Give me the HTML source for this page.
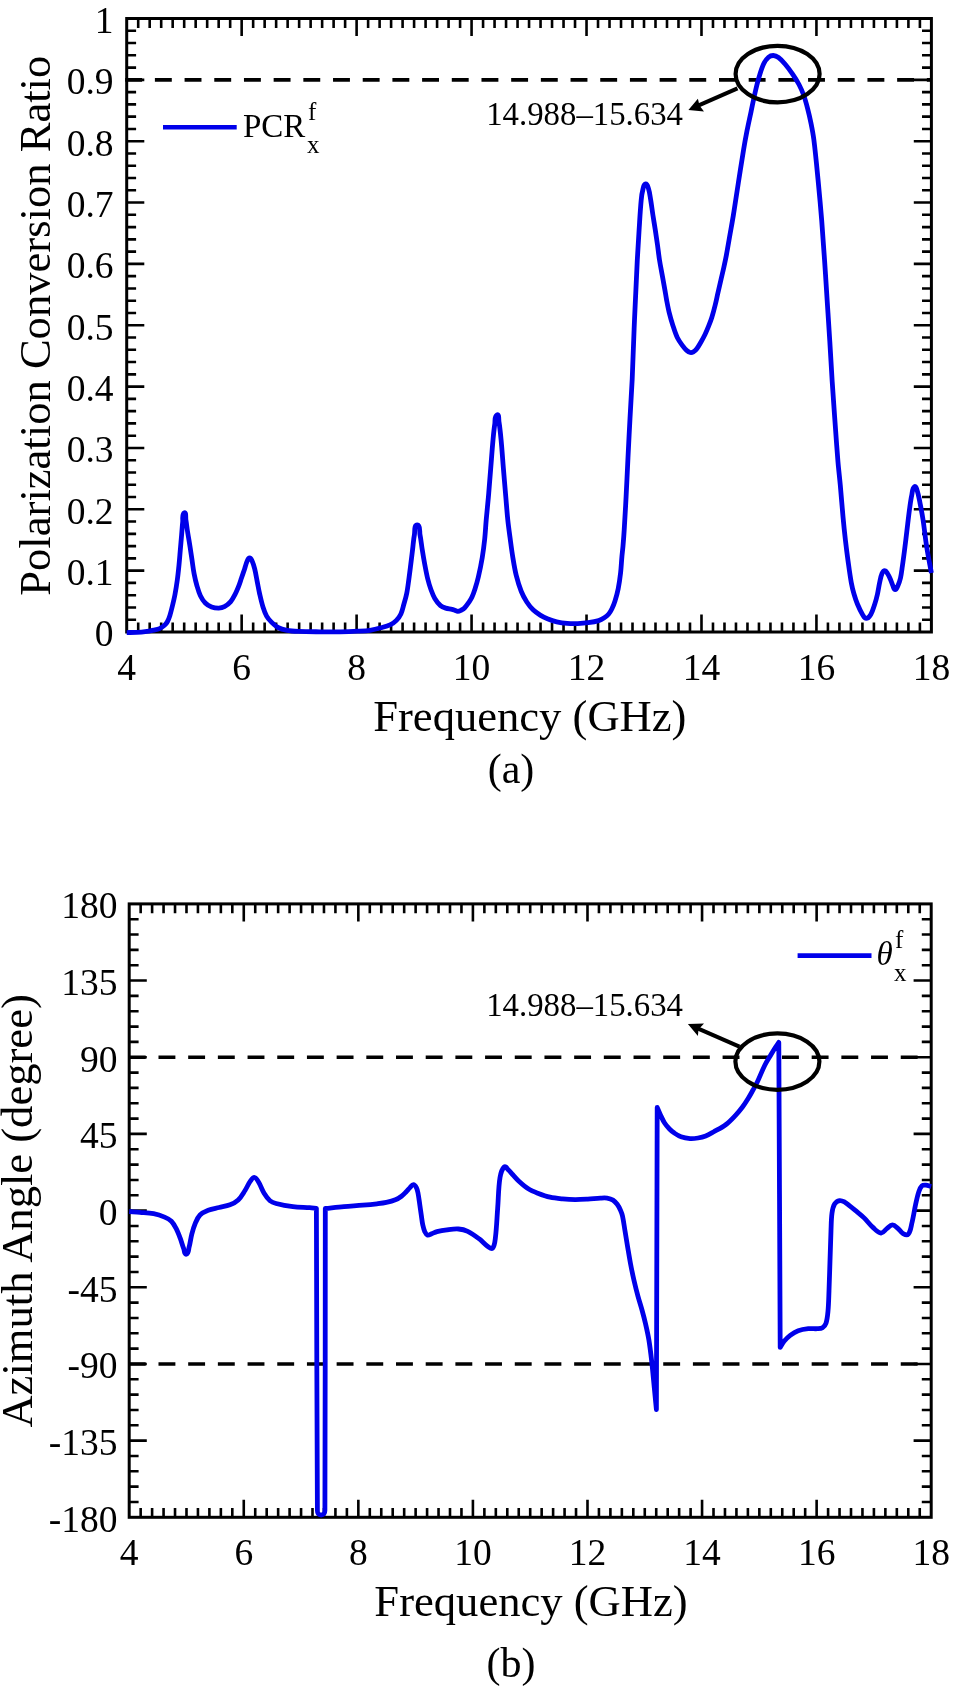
<!DOCTYPE html>
<html><head><meta charset="utf-8"><title>Chart</title>
<style>
html,body{margin:0;padding:0;background:#fff;}
svg{display:block;will-change:transform;}
text{font-family:"Liberation Serif", serif;fill:#000;}
</style></head>
<body>
<svg width="953" height="1686" viewBox="0 0 953 1686">
<rect width="953" height="1686" fill="#fff"/>
<line x1="125.20" y1="79.85" x2="931.40" y2="79.85" stroke="#000" stroke-width="3.6" stroke-dasharray="16.9 12.79"/>
<path d="M138.20,632.00V622.60 M138.20,18.50V27.90 M149.69,632.00V622.60 M149.69,18.50V27.90 M161.19,632.00V622.60 M161.19,18.50V27.90 M172.68,632.00V622.60 M172.68,18.50V27.90 M184.18,632.00V622.60 M184.18,18.50V27.90 M195.67,632.00V622.60 M195.67,18.50V27.90 M207.17,632.00V622.60 M207.17,18.50V27.90 M218.67,632.00V622.60 M218.67,18.50V27.90 M230.16,632.00V622.60 M230.16,18.50V27.90 M241.66,632.00V614.40 M241.66,18.50V36.10 M253.15,632.00V622.60 M253.15,18.50V27.90 M264.65,632.00V622.60 M264.65,18.50V27.90 M276.14,632.00V622.60 M276.14,18.50V27.90 M287.64,632.00V622.60 M287.64,18.50V27.90 M299.14,632.00V622.60 M299.14,18.50V27.90 M310.63,632.00V622.60 M310.63,18.50V27.90 M322.13,632.00V622.60 M322.13,18.50V27.90 M333.62,632.00V622.60 M333.62,18.50V27.90 M345.12,632.00V622.60 M345.12,18.50V27.90 M356.61,632.00V614.40 M356.61,18.50V36.10 M368.11,632.00V622.60 M368.11,18.50V27.90 M379.61,632.00V622.60 M379.61,18.50V27.90 M391.10,632.00V622.60 M391.10,18.50V27.90 M402.60,632.00V622.60 M402.60,18.50V27.90 M414.09,632.00V622.60 M414.09,18.50V27.90 M425.59,632.00V622.60 M425.59,18.50V27.90 M437.08,632.00V622.60 M437.08,18.50V27.90 M448.58,632.00V622.60 M448.58,18.50V27.90 M460.08,632.00V622.60 M460.08,18.50V27.90 M471.57,632.00V614.40 M471.57,18.50V36.10 M483.07,632.00V622.60 M483.07,18.50V27.90 M494.56,632.00V622.60 M494.56,18.50V27.90 M506.06,632.00V622.60 M506.06,18.50V27.90 M517.55,632.00V622.60 M517.55,18.50V27.90 M529.05,632.00V622.60 M529.05,18.50V27.90 M540.55,632.00V622.60 M540.55,18.50V27.90 M552.04,632.00V622.60 M552.04,18.50V27.90 M563.54,632.00V622.60 M563.54,18.50V27.90 M575.03,632.00V622.60 M575.03,18.50V27.90 M586.53,632.00V614.40 M586.53,18.50V36.10 M598.02,632.00V622.60 M598.02,18.50V27.90 M609.52,632.00V622.60 M609.52,18.50V27.90 M621.02,632.00V622.60 M621.02,18.50V27.90 M632.51,632.00V622.60 M632.51,18.50V27.90 M644.01,632.00V622.60 M644.01,18.50V27.90 M655.50,632.00V622.60 M655.50,18.50V27.90 M667.00,632.00V622.60 M667.00,18.50V27.90 M678.49,632.00V622.60 M678.49,18.50V27.90 M689.99,632.00V622.60 M689.99,18.50V27.90 M701.49,632.00V614.40 M701.49,18.50V36.10 M712.98,632.00V622.60 M712.98,18.50V27.90 M724.48,632.00V622.60 M724.48,18.50V27.90 M735.97,632.00V622.60 M735.97,18.50V27.90 M747.47,632.00V622.60 M747.47,18.50V27.90 M758.96,632.00V622.60 M758.96,18.50V27.90 M770.46,632.00V622.60 M770.46,18.50V27.90 M781.96,632.00V622.60 M781.96,18.50V27.90 M793.45,632.00V622.60 M793.45,18.50V27.90 M804.95,632.00V622.60 M804.95,18.50V27.90 M816.44,632.00V614.40 M816.44,18.50V36.10 M827.94,632.00V622.60 M827.94,18.50V27.90 M839.43,632.00V622.60 M839.43,18.50V27.90 M850.93,632.00V622.60 M850.93,18.50V27.90 M862.43,632.00V622.60 M862.43,18.50V27.90 M873.92,632.00V622.60 M873.92,18.50V27.90 M885.42,632.00V622.60 M885.42,18.50V27.90 M896.91,632.00V622.60 M896.91,18.50V27.90 M908.41,632.00V622.60 M908.41,18.50V27.90 M919.90,632.00V622.60 M919.90,18.50V27.90 M126.70,619.73H136.10 M931.40,619.73H922.00 M126.70,607.46H136.10 M931.40,607.46H922.00 M126.70,595.19H136.10 M931.40,595.19H922.00 M126.70,582.92H136.10 M931.40,582.92H922.00 M126.70,570.65H144.30 M931.40,570.65H913.80 M126.70,558.38H136.10 M931.40,558.38H922.00 M126.70,546.11H136.10 M931.40,546.11H922.00 M126.70,533.84H136.10 M931.40,533.84H922.00 M126.70,521.57H136.10 M931.40,521.57H922.00 M126.70,509.30H144.30 M931.40,509.30H913.80 M126.70,497.03H136.10 M931.40,497.03H922.00 M126.70,484.76H136.10 M931.40,484.76H922.00 M126.70,472.49H136.10 M931.40,472.49H922.00 M126.70,460.22H136.10 M931.40,460.22H922.00 M126.70,447.95H144.30 M931.40,447.95H913.80 M126.70,435.68H136.10 M931.40,435.68H922.00 M126.70,423.41H136.10 M931.40,423.41H922.00 M126.70,411.14H136.10 M931.40,411.14H922.00 M126.70,398.87H136.10 M931.40,398.87H922.00 M126.70,386.60H144.30 M931.40,386.60H913.80 M126.70,374.33H136.10 M931.40,374.33H922.00 M126.70,362.06H136.10 M931.40,362.06H922.00 M126.70,349.79H136.10 M931.40,349.79H922.00 M126.70,337.52H136.10 M931.40,337.52H922.00 M126.70,325.25H144.30 M931.40,325.25H913.80 M126.70,312.98H136.10 M931.40,312.98H922.00 M126.70,300.71H136.10 M931.40,300.71H922.00 M126.70,288.44H136.10 M931.40,288.44H922.00 M126.70,276.17H136.10 M931.40,276.17H922.00 M126.70,263.90H144.30 M931.40,263.90H913.80 M126.70,251.63H136.10 M931.40,251.63H922.00 M126.70,239.36H136.10 M931.40,239.36H922.00 M126.70,227.09H136.10 M931.40,227.09H922.00 M126.70,214.82H136.10 M931.40,214.82H922.00 M126.70,202.55H144.30 M931.40,202.55H913.80 M126.70,190.28H136.10 M931.40,190.28H922.00 M126.70,178.01H136.10 M931.40,178.01H922.00 M126.70,165.74H136.10 M931.40,165.74H922.00 M126.70,153.47H136.10 M931.40,153.47H922.00 M126.70,141.20H144.30 M931.40,141.20H913.80 M126.70,128.93H136.10 M931.40,128.93H922.00 M126.70,116.66H136.10 M931.40,116.66H922.00 M126.70,104.39H136.10 M931.40,104.39H922.00 M126.70,92.12H136.10 M931.40,92.12H922.00 M126.70,79.85H144.30 M931.40,79.85H913.80 M126.70,67.58H136.10 M931.40,67.58H922.00 M126.70,55.31H136.10 M931.40,55.31H922.00 M126.70,43.04H136.10 M931.40,43.04H922.00 M126.70,30.77H136.10 M931.40,30.77H922.00" stroke="#000" stroke-width="2.6" fill="none"/>
<rect x="126.70" y="18.50" width="804.70" height="613.50" fill="none" stroke="#000" stroke-width="3.0"/>
<path d="M126.70,632.60 C130.07,632.50 133.44,632.48 136.80,632.30 C139.61,632.15 142.41,631.96 145.20,631.60 C148.02,631.23 150.82,630.68 153.60,630.10 C155.59,629.68 157.64,629.42 159.50,628.60 C161.33,627.80 163.01,626.63 164.50,625.30 C165.71,624.23 166.73,622.92 167.50,621.50 C168.55,619.58 169.24,617.48 169.90,615.40 C170.88,612.31 171.63,609.15 172.40,606.00 C173.34,602.15 174.27,598.29 175.00,594.40 C175.90,589.62 176.64,584.82 177.30,580.00 C177.98,575.01 178.50,570.01 179.00,565.00 C179.50,560.01 179.87,555.00 180.30,550.00 C180.73,545.00 181.17,540.00 181.60,535.00 C181.97,530.67 182.17,526.32 182.70,522.00 C183.07,518.94 181.69,514.53 184.30,512.90 C186.36,511.61 185.48,517.61 185.90,520.00 C186.48,523.32 186.79,526.67 187.30,530.00 C188.05,534.87 188.93,539.73 189.70,544.60 C190.47,549.46 191.17,554.33 191.90,559.20 C192.63,564.07 193.18,568.97 194.10,573.80 C194.88,577.91 195.84,581.98 197.00,586.00 C197.95,589.29 198.90,592.62 200.40,595.70 C201.69,598.33 203.24,600.92 205.30,603.00 C207.05,604.77 209.28,606.11 211.60,607.00 C213.87,607.87 216.37,608.26 218.80,608.20 C220.73,608.15 222.71,607.64 224.40,606.70 C226.76,605.39 228.94,603.65 230.70,601.60 C232.60,599.39 233.84,596.68 235.20,594.10 C236.38,591.87 237.38,589.55 238.30,587.20 C239.45,584.28 240.38,581.27 241.40,578.30 C242.48,575.17 243.55,572.04 244.60,568.90 C245.45,566.37 246.00,563.73 247.10,561.30 C247.69,559.99 248.17,557.80 249.60,557.80 C251.05,557.80 251.59,559.98 252.20,561.30 C253.31,563.72 254.06,566.31 254.70,568.90 C255.73,573.06 256.37,577.30 257.20,581.50 C258.03,585.70 258.76,589.92 259.70,594.10 C260.66,598.33 261.60,602.57 262.90,606.70 C263.91,609.91 264.95,613.16 266.60,616.10 C267.92,618.46 269.79,620.49 271.70,622.40 C273.61,624.31 275.60,626.26 278.00,627.50 C280.79,628.94 283.91,629.71 287.00,630.30 C290.75,631.02 294.59,631.22 298.40,631.40 C305.39,631.72 312.40,631.73 319.40,631.80 C326.27,631.87 333.13,631.91 340.00,631.80 C345.97,631.71 351.94,631.50 357.90,631.20 C361.94,631.00 366.00,630.89 370.00,630.30 C373.72,629.75 377.38,628.80 381.00,627.80 C384.25,626.90 387.56,626.06 390.60,624.60 C392.75,623.57 394.74,622.11 396.40,620.40 C398.22,618.53 399.80,616.36 400.90,614.00 C402.30,611.00 402.90,607.69 403.80,604.50 C404.83,600.85 405.96,597.22 406.70,593.50 C407.66,588.64 408.22,583.71 408.90,578.80 C409.58,573.91 410.18,569.00 410.80,564.10 C411.42,559.20 412.00,554.30 412.60,549.40 C413.20,544.50 413.47,539.55 414.40,534.70 C415.04,531.39 413.93,525.00 417.30,525.00 C420.66,525.00 419.34,531.41 420.00,534.70 C420.98,539.56 421.42,544.51 422.20,549.40 C422.98,554.31 423.79,559.21 424.70,564.10 C425.62,569.02 426.51,573.94 427.70,578.80 C428.61,582.52 429.70,586.20 431.00,589.80 C432.07,592.75 433.19,595.71 434.80,598.40 C436.38,601.02 438.21,603.57 440.50,605.60 C441.94,606.88 443.87,607.51 445.70,608.10 C447.74,608.75 449.92,608.81 452.00,609.30 C452.92,609.52 453.81,609.88 454.70,610.20 C455.74,610.58 456.69,611.43 457.80,611.40 C459.12,611.36 460.32,610.60 461.50,610.00 C462.57,609.46 463.67,608.87 464.50,608.00 C466.27,606.14 467.74,604.01 469.20,601.90 C470.25,600.37 471.24,598.79 472.00,597.10 C473.14,594.57 474.07,591.95 474.90,589.30 C476.20,585.14 477.42,580.95 478.40,576.70 C479.85,570.44 481.14,564.14 482.20,557.80 C483.24,551.53 484.03,545.22 484.70,538.90 C485.37,532.62 485.65,526.30 486.20,520.00 C486.88,512.29 487.73,504.61 488.40,496.90 C489.23,487.44 489.93,477.97 490.70,468.50 C491.47,459.00 492.13,449.49 493.00,440.00 C493.49,434.66 493.96,429.30 494.80,424.00 C495.29,420.89 494.15,416.16 497.00,414.80 C499.25,413.73 498.60,419.54 499.00,422.00 C499.97,427.96 500.53,433.99 501.10,440.00 C502.00,449.49 502.62,459.00 503.40,468.50 C504.18,477.97 504.99,487.43 505.80,496.90 C506.46,504.60 506.99,512.31 507.80,520.00 C508.46,526.32 509.35,532.61 510.20,538.90 C511.08,545.44 511.92,551.99 513.00,558.50 C513.95,564.26 514.88,570.04 516.30,575.70 C517.65,581.06 519.25,586.37 521.30,591.50 C522.76,595.17 524.66,598.68 526.80,602.00 C528.61,604.81 530.71,607.46 533.10,609.80 C535.21,611.86 537.69,613.55 540.20,615.10 C542.67,616.63 545.31,617.91 548.00,619.00 C550.82,620.15 553.73,621.12 556.70,621.80 C560.15,622.59 563.67,623.10 567.20,623.40 C570.69,623.70 574.20,623.72 577.70,623.60 C581.21,623.48 584.72,623.20 588.20,622.70 C591.73,622.20 595.29,621.64 598.70,620.60 C600.70,619.99 602.54,618.93 604.30,617.80 C605.83,616.81 607.32,615.69 608.50,614.30 C609.85,612.72 610.89,610.87 611.80,609.00 C613.06,606.42 614.14,603.74 615.00,601.00 C616.27,596.96 617.38,592.86 618.20,588.70 C619.25,583.41 619.98,578.06 620.60,572.70 C621.21,567.38 621.42,562.03 621.90,556.70 C622.22,553.13 622.69,549.57 623.00,546.00 C623.46,540.67 623.87,535.34 624.20,530.00 C624.90,518.84 625.52,507.67 626.10,496.50 C626.78,483.47 627.35,470.43 628.00,457.40 C628.65,444.37 629.30,431.33 630.00,418.30 C630.70,405.23 631.58,392.17 632.20,379.10 C632.82,366.07 633.19,353.03 633.70,340.00 C633.96,333.27 634.20,326.53 634.50,319.80 C634.94,309.80 635.43,299.80 635.90,289.80 C636.37,279.83 636.77,269.86 637.30,259.90 C637.83,249.90 638.45,239.90 639.10,229.90 C639.75,219.93 640.26,209.95 641.20,200.00 C641.53,196.47 641.97,192.92 642.90,189.50 C643.45,187.47 643.51,183.98 645.60,183.80 C647.59,183.63 648.00,187.09 648.60,189.00 C649.72,192.56 650.09,196.32 650.70,200.00 C651.52,204.99 652.13,210.00 652.90,215.00 C653.67,220.01 654.53,224.99 655.30,230.00 C656.07,235.00 656.80,240.00 657.50,245.00 C658.20,250.00 658.72,255.02 659.50,260.00 C660.29,265.02 661.30,270.00 662.20,275.00 C663.10,280.00 664.02,285.00 664.90,290.00 C665.49,293.33 665.97,296.68 666.60,300.00 C667.40,304.21 668.18,308.44 669.20,312.60 C670.24,316.84 671.45,321.05 672.80,325.20 C674.18,329.45 675.45,333.78 677.40,337.80 C678.90,340.89 681.07,343.62 683.10,346.40 C684.14,347.83 685.26,349.25 686.60,350.40 C687.65,351.31 688.84,352.20 690.20,352.50 C691.26,352.73 692.45,352.43 693.40,351.90 C694.74,351.15 695.87,350.02 696.80,348.80 C698.42,346.69 699.67,344.31 701.00,342.00 C702.41,339.54 703.77,337.05 705.00,334.50 C706.31,331.78 707.48,329.00 708.60,326.20 C709.75,323.33 710.88,320.45 711.80,317.50 C713.08,313.38 714.16,309.19 715.20,305.00 C716.19,301.02 716.99,297.00 717.90,293.00 C718.89,288.66 719.90,284.33 720.90,280.00 C721.86,275.83 722.88,271.68 723.80,267.50 C724.71,263.34 725.62,259.18 726.40,255.00 C727.72,247.98 728.87,240.93 730.10,233.90 C731.20,227.60 732.38,221.31 733.40,215.00 C735.15,204.18 736.71,193.33 738.40,182.50 C740.11,171.53 741.78,160.55 743.60,149.60 C744.64,143.32 745.77,137.05 747.00,130.80 C748.24,124.48 749.67,118.20 751.00,111.90 C752.33,105.60 753.56,99.28 755.00,93.00 C756.16,87.94 757.32,82.88 758.80,77.90 C760.19,73.20 761.51,68.43 763.60,64.00 C764.78,61.50 766.42,59.12 768.50,57.30 C769.79,56.17 771.59,55.47 773.30,55.50 C775.16,55.54 777.00,56.41 778.50,57.50 C780.98,59.30 783.02,61.66 785.00,64.00 C787.73,67.21 790.22,70.62 792.60,74.10 C794.90,77.46 797.11,80.89 799.00,84.50 C800.86,88.04 802.44,91.74 803.80,95.50 C805.28,99.62 806.40,103.86 807.50,108.10 C808.80,113.10 809.98,118.13 811.00,123.20 C812.12,128.77 813.20,134.36 813.90,140.00 C815.57,153.40 816.80,166.86 818.10,180.30 C819.40,193.69 820.62,207.09 821.70,220.50 C822.78,233.92 823.68,247.36 824.60,260.80 C825.52,274.23 826.33,287.67 827.20,301.10 C828.07,314.50 828.97,327.90 829.80,341.30 C830.63,354.73 831.33,368.17 832.20,381.60 C833.07,395.04 834.03,408.47 835.00,421.90 C835.97,435.30 836.88,448.71 838.00,462.10 C838.65,469.81 839.59,477.49 840.30,485.20 C841.26,495.69 842.02,506.21 843.00,516.70 C843.72,524.47 844.51,532.24 845.40,540.00 C846.21,547.11 847.12,554.21 848.10,561.30 C849.09,568.44 850.02,575.60 851.30,582.70 C851.99,586.51 852.93,590.28 854.00,594.00 C854.97,597.38 856.05,600.75 857.40,604.00 C858.89,607.56 860.49,611.11 862.50,614.40 C863.45,615.95 864.38,618.40 866.20,618.40 C868.23,618.40 869.76,616.14 870.80,614.40 C872.70,611.21 873.64,607.53 874.80,604.00 C875.88,600.72 876.74,597.37 877.50,594.00 C878.34,590.26 878.78,586.44 879.60,582.70 C880.28,579.60 880.75,576.41 882.00,573.50 C882.53,572.27 883.46,570.60 884.80,570.60 C886.12,570.60 886.78,572.40 887.50,573.50 C888.63,575.22 889.47,577.12 890.30,579.00 C891.31,581.29 891.95,583.73 893.00,586.00 C893.59,587.28 893.79,589.60 895.20,589.60 C896.68,589.60 897.18,587.35 897.80,586.00 C898.97,583.44 899.87,580.74 900.50,578.00 C901.41,574.05 901.81,570.01 902.40,566.00 C903.08,561.34 903.69,556.67 904.30,552.00 C904.82,548.00 905.31,544.00 905.80,540.00 C906.45,534.67 907.05,529.33 907.70,524.00 C908.35,518.66 908.95,513.32 909.70,508.00 C910.31,503.65 910.84,499.28 911.80,495.00 C912.44,492.13 912.12,488.33 914.50,486.60 C915.91,485.58 916.75,489.35 917.30,491.00 C918.60,494.89 919.20,498.98 920.00,503.00 C921.10,508.48 922.16,513.97 923.00,519.50 C924.39,528.64 925.27,537.86 926.70,547.00 C928.07,555.70 929.83,564.33 931.40,573.00" stroke="#0000ea" stroke-width="4.8" fill="none" stroke-linejoin="round" stroke-linecap="butt"/>
<ellipse cx="777.6" cy="74.1" rx="42.0" ry="28.3" fill="none" stroke="#000" stroke-width="4.2"/>
<line x1="737.5" y1="88.3" x2="697.0" y2="106.2" stroke="#000" stroke-width="4.0"/>
<polygon points="688.4,110.0 697.9,98.7 699.5,105.5 704.0,111.5" fill="#000"/>
<line x1="163.0" y1="127.3" x2="236.7" y2="127.3" stroke="#0000ea" stroke-width="4.6"/>
<text x="243.0" y="136.8" font-size="33" font-family="Liberation Serif, serif">PCR</text><text x="308.0" y="119.5" font-size="25" font-family="Liberation Serif, serif">f</text><text x="307.0" y="152.5" font-size="25" font-family="Liberation Serif, serif">x</text>
<text x="126.70" y="679.60" font-size="37.5" text-anchor="middle" font-family="Liberation Serif, serif">4</text>
<text x="241.66" y="679.60" font-size="37.5" text-anchor="middle" font-family="Liberation Serif, serif">6</text>
<text x="356.61" y="679.60" font-size="37.5" text-anchor="middle" font-family="Liberation Serif, serif">8</text>
<text x="471.57" y="679.60" font-size="37.5" text-anchor="middle" font-family="Liberation Serif, serif">10</text>
<text x="586.53" y="679.60" font-size="37.5" text-anchor="middle" font-family="Liberation Serif, serif">12</text>
<text x="701.49" y="679.60" font-size="37.5" text-anchor="middle" font-family="Liberation Serif, serif">14</text>
<text x="816.44" y="679.60" font-size="37.5" text-anchor="middle" font-family="Liberation Serif, serif">16</text>
<text x="931.40" y="679.60" font-size="37.5" text-anchor="middle" font-family="Liberation Serif, serif">18</text>
<text x="113.60" y="646.30" font-size="37.5" text-anchor="end" font-family="Liberation Serif, serif">0</text>
<text x="113.60" y="584.95" font-size="37.5" text-anchor="end" font-family="Liberation Serif, serif">0.1</text>
<text x="113.60" y="523.60" font-size="37.5" text-anchor="end" font-family="Liberation Serif, serif">0.2</text>
<text x="113.60" y="462.25" font-size="37.5" text-anchor="end" font-family="Liberation Serif, serif">0.3</text>
<text x="113.60" y="400.90" font-size="37.5" text-anchor="end" font-family="Liberation Serif, serif">0.4</text>
<text x="113.60" y="339.55" font-size="37.5" text-anchor="end" font-family="Liberation Serif, serif">0.5</text>
<text x="113.60" y="278.20" font-size="37.5" text-anchor="end" font-family="Liberation Serif, serif">0.6</text>
<text x="113.60" y="216.85" font-size="37.5" text-anchor="end" font-family="Liberation Serif, serif">0.7</text>
<text x="113.60" y="155.50" font-size="37.5" text-anchor="end" font-family="Liberation Serif, serif">0.8</text>
<text x="113.60" y="94.15" font-size="37.5" text-anchor="end" font-family="Liberation Serif, serif">0.9</text>
<text x="113.60" y="32.80" font-size="37.5" text-anchor="end" font-family="Liberation Serif, serif">1</text>
<text x="529.85" y="731.00" font-size="44.6" text-anchor="middle" font-family="Liberation Serif, serif">Frequency (GHz)</text>
<text x="511.00" y="783.00" font-size="42" text-anchor="middle" font-family="Liberation Serif, serif">(a)</text>
<text x="0" y="0" font-size="44.6" text-anchor="middle" font-family="Liberation Serif, serif" transform="translate(49.50,325.75) rotate(-90)">Polarization Conversion Ratio</text>
<text x="486.20" y="125.00" font-size="32.8" font-family="Liberation Serif, serif">14.988&#8211;15.634</text>
<line x1="128.80" y1="1057.25" x2="931.20" y2="1057.25" stroke="#000" stroke-width="3.6" stroke-dasharray="16.9 12.79"/>
<line x1="128.80" y1="1363.95" x2="931.20" y2="1363.95" stroke="#000" stroke-width="3.6" stroke-dasharray="16.9 12.79"/>
<path d="M140.66,1517.30V1507.90 M140.66,903.90V913.30 M152.11,1517.30V1507.90 M152.11,903.90V913.30 M163.57,1517.30V1507.90 M163.57,903.90V913.30 M175.03,1517.30V1507.90 M175.03,903.90V913.30 M186.49,1517.30V1507.90 M186.49,903.90V913.30 M197.94,1517.30V1507.90 M197.94,903.90V913.30 M209.40,1517.30V1507.90 M209.40,903.90V913.30 M220.86,1517.30V1507.90 M220.86,903.90V913.30 M232.31,1517.30V1507.90 M232.31,903.90V913.30 M243.77,1517.30V1499.70 M243.77,903.90V921.50 M255.23,1517.30V1507.90 M255.23,903.90V913.30 M266.69,1517.30V1507.90 M266.69,903.90V913.30 M278.14,1517.30V1507.90 M278.14,903.90V913.30 M289.60,1517.30V1507.90 M289.60,903.90V913.30 M301.06,1517.30V1507.90 M301.06,903.90V913.30 M312.51,1517.30V1507.90 M312.51,903.90V913.30 M323.97,1517.30V1507.90 M323.97,903.90V913.30 M335.43,1517.30V1507.90 M335.43,903.90V913.30 M346.89,1517.30V1507.90 M346.89,903.90V913.30 M358.34,1517.30V1499.70 M358.34,903.90V921.50 M369.80,1517.30V1507.90 M369.80,903.90V913.30 M381.26,1517.30V1507.90 M381.26,903.90V913.30 M392.71,1517.30V1507.90 M392.71,903.90V913.30 M404.17,1517.30V1507.90 M404.17,903.90V913.30 M415.63,1517.30V1507.90 M415.63,903.90V913.30 M427.09,1517.30V1507.90 M427.09,903.90V913.30 M438.54,1517.30V1507.90 M438.54,903.90V913.30 M450.00,1517.30V1507.90 M450.00,903.90V913.30 M461.46,1517.30V1507.90 M461.46,903.90V913.30 M472.91,1517.30V1499.70 M472.91,903.90V921.50 M484.37,1517.30V1507.90 M484.37,903.90V913.30 M495.83,1517.30V1507.90 M495.83,903.90V913.30 M507.29,1517.30V1507.90 M507.29,903.90V913.30 M518.74,1517.30V1507.90 M518.74,903.90V913.30 M530.20,1517.30V1507.90 M530.20,903.90V913.30 M541.66,1517.30V1507.90 M541.66,903.90V913.30 M553.11,1517.30V1507.90 M553.11,903.90V913.30 M564.57,1517.30V1507.90 M564.57,903.90V913.30 M576.03,1517.30V1507.90 M576.03,903.90V913.30 M587.49,1517.30V1499.70 M587.49,903.90V921.50 M598.94,1517.30V1507.90 M598.94,903.90V913.30 M610.40,1517.30V1507.90 M610.40,903.90V913.30 M621.86,1517.30V1507.90 M621.86,903.90V913.30 M633.31,1517.30V1507.90 M633.31,903.90V913.30 M644.77,1517.30V1507.90 M644.77,903.90V913.30 M656.23,1517.30V1507.90 M656.23,903.90V913.30 M667.69,1517.30V1507.90 M667.69,903.90V913.30 M679.14,1517.30V1507.90 M679.14,903.90V913.30 M690.60,1517.30V1507.90 M690.60,903.90V913.30 M702.06,1517.30V1499.70 M702.06,903.90V921.50 M713.51,1517.30V1507.90 M713.51,903.90V913.30 M724.97,1517.30V1507.90 M724.97,903.90V913.30 M736.43,1517.30V1507.90 M736.43,903.90V913.30 M747.89,1517.30V1507.90 M747.89,903.90V913.30 M759.34,1517.30V1507.90 M759.34,903.90V913.30 M770.80,1517.30V1507.90 M770.80,903.90V913.30 M782.26,1517.30V1507.90 M782.26,903.90V913.30 M793.71,1517.30V1507.90 M793.71,903.90V913.30 M805.17,1517.30V1507.90 M805.17,903.90V913.30 M816.63,1517.30V1499.70 M816.63,903.90V921.50 M828.09,1517.30V1507.90 M828.09,903.90V913.30 M839.54,1517.30V1507.90 M839.54,903.90V913.30 M851.00,1517.30V1507.90 M851.00,903.90V913.30 M862.46,1517.30V1507.90 M862.46,903.90V913.30 M873.91,1517.30V1507.90 M873.91,903.90V913.30 M885.37,1517.30V1507.90 M885.37,903.90V913.30 M896.83,1517.30V1507.90 M896.83,903.90V913.30 M908.29,1517.30V1507.90 M908.29,903.90V913.30 M919.74,1517.30V1507.90 M919.74,903.90V913.30 M129.20,1501.96H138.60 M931.20,1501.96H921.80 M129.20,1486.63H138.60 M931.20,1486.63H921.80 M129.20,1471.30H138.60 M931.20,1471.30H921.80 M129.20,1455.96H138.60 M931.20,1455.96H921.80 M129.20,1440.62H146.80 M931.20,1440.62H913.60 M129.20,1425.29H138.60 M931.20,1425.29H921.80 M129.20,1409.95H138.60 M931.20,1409.95H921.80 M129.20,1394.62H138.60 M931.20,1394.62H921.80 M129.20,1379.28H138.60 M931.20,1379.28H921.80 M129.20,1363.95H146.80 M931.20,1363.95H913.60 M129.20,1348.62H138.60 M931.20,1348.62H921.80 M129.20,1333.28H138.60 M931.20,1333.28H921.80 M129.20,1317.94H138.60 M931.20,1317.94H921.80 M129.20,1302.61H138.60 M931.20,1302.61H921.80 M129.20,1287.28H146.80 M931.20,1287.28H913.60 M129.20,1271.94H138.60 M931.20,1271.94H921.80 M129.20,1256.61H138.60 M931.20,1256.61H921.80 M129.20,1241.27H138.60 M931.20,1241.27H921.80 M129.20,1225.93H138.60 M931.20,1225.93H921.80 M129.20,1210.60H146.80 M931.20,1210.60H913.60 M129.20,1195.26H138.60 M931.20,1195.26H921.80 M129.20,1179.93H138.60 M931.20,1179.93H921.80 M129.20,1164.60H138.60 M931.20,1164.60H921.80 M129.20,1149.26H138.60 M931.20,1149.26H921.80 M129.20,1133.92H146.80 M931.20,1133.92H913.60 M129.20,1118.59H138.60 M931.20,1118.59H921.80 M129.20,1103.25H138.60 M931.20,1103.25H921.80 M129.20,1087.92H138.60 M931.20,1087.92H921.80 M129.20,1072.59H138.60 M931.20,1072.59H921.80 M129.20,1057.25H146.80 M931.20,1057.25H913.60 M129.20,1041.91H138.60 M931.20,1041.91H921.80 M129.20,1026.58H138.60 M931.20,1026.58H921.80 M129.20,1011.25H138.60 M931.20,1011.25H921.80 M129.20,995.91H138.60 M931.20,995.91H921.80 M129.20,980.57H146.80 M931.20,980.57H913.60 M129.20,965.24H138.60 M931.20,965.24H921.80 M129.20,949.90H138.60 M931.20,949.90H921.80 M129.20,934.57H138.60 M931.20,934.57H921.80 M129.20,919.24H138.60 M931.20,919.24H921.80" stroke="#000" stroke-width="2.6" fill="none"/>
<rect x="129.20" y="903.90" width="802.00" height="613.40" fill="none" stroke="#000" stroke-width="3.0"/>
<path d="M129.20,1211.50 C132.80,1211.77 136.40,1211.98 140.00,1212.30 C144.54,1212.71 149.13,1212.83 153.60,1213.70 C157.37,1214.43 161.06,1215.61 164.60,1217.10 C167.04,1218.13 169.53,1219.33 171.40,1221.20 C173.50,1223.30 174.84,1226.06 176.20,1228.70 C177.78,1231.75 178.99,1234.98 180.20,1238.20 C181.49,1241.62 182.38,1245.19 183.70,1248.60 C184.45,1250.53 184.39,1254.72 186.40,1254.20 C188.82,1253.57 188.45,1249.62 189.10,1247.20 C190.26,1242.89 190.68,1238.42 191.80,1234.10 C192.75,1230.41 193.79,1226.71 195.30,1223.20 C196.54,1220.31 197.78,1217.24 200.00,1215.00 C202.23,1212.75 205.25,1211.36 208.20,1210.20 C211.68,1208.83 215.47,1208.40 219.10,1207.50 C222.73,1206.60 226.52,1206.17 230.00,1204.80 C232.95,1203.64 235.91,1202.19 238.20,1200.00 C241.02,1197.31 242.89,1193.77 245.00,1190.50 C247.00,1187.40 248.31,1183.87 250.50,1180.90 C251.55,1179.47 252.85,1177.20 254.60,1177.50 C256.67,1177.85 257.61,1180.50 258.70,1182.30 C260.80,1185.77 261.98,1189.74 264.10,1193.20 C265.76,1195.91 267.59,1198.63 270.00,1200.70 C271.70,1202.16 273.94,1202.93 276.10,1203.50 C281.61,1204.94 287.24,1205.99 292.90,1206.70 C298.47,1207.40 304.10,1207.32 309.70,1207.70 C311.94,1207.85 314.17,1208.10 316.40,1208.30 C316.73,1309.03 316.81,1409.77 317.40,1510.50 C317.41,1511.63 317.48,1512.93 318.20,1513.80 C318.86,1514.61 320.05,1515.00 321.10,1515.00 C322.15,1515.00 323.33,1514.60 324.00,1513.80 C324.74,1512.93 324.90,1511.64 324.90,1510.50 C325.33,1409.83 325.17,1309.17 325.30,1208.50 C331.50,1207.87 337.69,1207.15 343.90,1206.60 C350.19,1206.05 356.51,1205.73 362.80,1205.20 C367.51,1204.80 372.21,1204.36 376.90,1203.80 C380.08,1203.42 383.27,1203.08 386.40,1202.40 C389.45,1201.74 392.51,1200.99 395.40,1199.80 C397.58,1198.90 399.60,1197.60 401.50,1196.20 C403.15,1194.98 404.56,1193.46 406.00,1192.00 C407.39,1190.59 408.59,1188.99 410.00,1187.60 C411.06,1186.55 411.91,1184.65 413.40,1184.70 C414.86,1184.74 415.82,1186.51 416.50,1187.80 C417.44,1189.57 417.71,1191.63 418.10,1193.60 C418.78,1197.07 419.18,1200.60 419.70,1204.10 C420.22,1207.60 420.68,1211.10 421.20,1214.60 C421.72,1218.10 422.06,1221.64 422.80,1225.10 C423.30,1227.42 423.89,1229.75 424.90,1231.90 C425.48,1233.14 426.17,1234.75 427.50,1235.10 C428.93,1235.48 430.32,1234.21 431.70,1233.70 C433.48,1233.04 435.16,1232.07 437.00,1231.60 C440.28,1230.76 443.64,1230.21 447.00,1229.80 C450.81,1229.34 454.67,1228.72 458.50,1229.00 C461.65,1229.23 464.85,1229.94 467.70,1231.30 C471.87,1233.29 475.61,1236.12 479.30,1238.90 C482.56,1241.36 485.13,1244.69 488.50,1247.00 C489.69,1247.82 491.84,1249.26 492.70,1248.10 C494.83,1245.22 494.96,1241.25 495.40,1237.70 C496.63,1227.75 496.93,1217.70 497.70,1207.70 C498.47,1197.70 498.40,1187.60 500.00,1177.70 C500.62,1173.87 501.43,1169.50 504.30,1166.90 C505.59,1165.73 507.22,1168.82 508.50,1170.00 C510.00,1171.37 511.22,1173.01 512.60,1174.50 C514.69,1176.75 516.63,1179.14 518.90,1181.20 C521.88,1183.91 524.90,1186.64 528.30,1188.80 C531.25,1190.67 534.55,1191.94 537.80,1193.20 C541.79,1194.74 545.83,1196.24 550.00,1197.20 C554.13,1198.15 558.38,1198.50 562.60,1198.90 C566.79,1199.30 570.99,1199.57 575.20,1199.60 C579.40,1199.63 583.60,1199.35 587.80,1199.10 C592.01,1198.85 596.19,1198.32 600.40,1198.10 C602.63,1197.98 604.89,1197.75 607.10,1198.10 C609.15,1198.43 611.23,1199.01 613.00,1200.10 C614.69,1201.14 616.02,1202.71 617.20,1204.30 C618.54,1206.11 619.57,1208.15 620.50,1210.20 C621.34,1212.06 622.07,1214.00 622.50,1216.00 C623.57,1220.92 624.17,1225.93 625.00,1230.90 C625.91,1236.37 626.78,1241.84 627.70,1247.30 C628.61,1252.74 629.47,1258.18 630.50,1263.60 C631.54,1269.09 632.66,1274.56 633.90,1280.00 C635.16,1285.49 636.53,1290.96 638.00,1296.40 C639.23,1300.96 640.74,1305.44 642.00,1310.00 C643.24,1314.51 644.45,1319.04 645.50,1323.60 C646.75,1329.04 647.99,1334.49 648.90,1340.00 C650.02,1346.80 650.82,1353.65 651.60,1360.50 C652.62,1369.55 653.41,1378.63 654.30,1387.70 C655.01,1395.00 655.70,1402.30 656.40,1409.60 C656.67,1308.87 656.93,1208.13 657.20,1107.40 C658.30,1109.93 659.32,1112.50 660.50,1115.00 C661.78,1117.71 662.98,1120.48 664.60,1123.00 C666.00,1125.17 667.70,1127.15 669.50,1129.00 C670.98,1130.53 672.64,1131.90 674.40,1133.10 C676.49,1134.52 678.62,1135.97 681.00,1136.80 C683.92,1137.82 687.02,1138.38 690.10,1138.60 C692.73,1138.79 695.40,1138.43 698.00,1138.00 C700.62,1137.56 703.23,1136.96 705.70,1136.00 C708.40,1134.95 710.88,1133.43 713.40,1132.00 C717.65,1129.59 722.09,1127.43 726.00,1124.50 C729.43,1121.93 732.36,1118.72 735.30,1115.60 C737.86,1112.88 740.25,1109.98 742.50,1107.00 C744.48,1104.37 746.27,1101.60 748.00,1098.80 C749.77,1095.93 751.37,1092.95 753.00,1090.00 C754.47,1087.35 756.00,1084.73 757.30,1082.00 C759.93,1076.46 762.07,1070.69 764.80,1065.20 C766.47,1061.84 768.59,1058.73 770.50,1055.50 C772.09,1052.83 773.64,1050.13 775.30,1047.50 C776.40,1045.76 777.63,1044.10 778.80,1042.40 C779.27,1144.07 779.73,1245.73 780.20,1347.40 C781.50,1345.37 782.56,1343.16 784.10,1341.30 C785.92,1339.10 787.92,1337.01 790.20,1335.30 C792.66,1333.45 795.31,1331.75 798.20,1330.70 C801.42,1329.52 804.89,1329.06 808.30,1328.70 C811.32,1328.39 814.37,1328.91 817.40,1328.70 C819.13,1328.58 821.04,1328.63 822.50,1327.70 C824.10,1326.68 825.40,1325.00 826.00,1323.20 C827.29,1319.32 827.62,1315.17 828.00,1311.10 C828.62,1304.39 828.73,1297.64 829.00,1290.90 C829.40,1280.80 829.67,1270.70 830.00,1260.60 C830.33,1250.53 830.58,1240.46 831.00,1230.40 C831.24,1224.66 831.22,1218.89 832.00,1213.20 C832.43,1210.07 832.97,1206.80 834.60,1204.10 C835.65,1202.36 837.60,1201.00 839.60,1200.60 C841.34,1200.26 843.13,1201.27 844.70,1202.10 C846.66,1203.13 848.26,1204.74 850.00,1206.10 C851.79,1207.50 853.56,1208.94 855.30,1210.40 C858.26,1212.87 861.33,1215.22 864.10,1217.90 C867.20,1220.90 869.67,1224.53 872.90,1227.40 C875.37,1229.60 877.80,1232.72 881.10,1233.00 C883.49,1233.21 884.85,1230.00 886.80,1228.60 C888.62,1227.30 890.16,1224.90 892.40,1224.90 C894.67,1224.90 896.35,1227.16 898.10,1228.60 C899.94,1230.11 901.03,1232.53 903.10,1233.70 C904.59,1234.54 907.11,1235.62 908.20,1234.30 C910.72,1231.24 910.94,1226.85 911.90,1223.00 C913.45,1216.76 914.31,1210.37 915.70,1204.10 C916.64,1199.87 917.49,1195.60 918.90,1191.50 C919.60,1189.45 920.40,1187.26 922.00,1185.80 C922.95,1184.94 924.52,1185.09 925.80,1185.20 C927.65,1185.36 929.40,1186.13 931.20,1186.60" stroke="#0000ea" stroke-width="4.8" fill="none" stroke-linejoin="round" stroke-linecap="butt"/>
<ellipse cx="777.4" cy="1061.6" rx="42.0" ry="28.2" fill="none" stroke="#000" stroke-width="4.2"/>
<line x1="739.4" y1="1046.7" x2="696.5" y2="1027.8" stroke="#000" stroke-width="4.0"/>
<polygon points="687.9,1024.1 704.0,1023.4 698.5,1029.5 697.9,1035.9" fill="#000"/>
<line x1="797.6" y1="955.6" x2="871.5" y2="955.6" stroke="#0000ea" stroke-width="4.6"/>
<text x="876.5" y="964.5" font-size="33" font-style="italic" font-family="Liberation Serif, serif">&#952;</text><text x="895.0" y="947.5" font-size="25" font-family="Liberation Serif, serif">f</text><text x="894.0" y="980.5" font-size="25" font-family="Liberation Serif, serif">x</text>
<text x="129.20" y="1564.90" font-size="37.5" text-anchor="middle" font-family="Liberation Serif, serif">4</text>
<text x="243.77" y="1564.90" font-size="37.5" text-anchor="middle" font-family="Liberation Serif, serif">6</text>
<text x="358.34" y="1564.90" font-size="37.5" text-anchor="middle" font-family="Liberation Serif, serif">8</text>
<text x="472.91" y="1564.90" font-size="37.5" text-anchor="middle" font-family="Liberation Serif, serif">10</text>
<text x="587.49" y="1564.90" font-size="37.5" text-anchor="middle" font-family="Liberation Serif, serif">12</text>
<text x="702.06" y="1564.90" font-size="37.5" text-anchor="middle" font-family="Liberation Serif, serif">14</text>
<text x="816.63" y="1564.90" font-size="37.5" text-anchor="middle" font-family="Liberation Serif, serif">16</text>
<text x="931.20" y="1564.90" font-size="37.5" text-anchor="middle" font-family="Liberation Serif, serif">18</text>
<text x="117.40" y="1531.60" font-size="37.5" text-anchor="end" font-family="Liberation Serif, serif">-180</text>
<text x="117.40" y="1454.92" font-size="37.5" text-anchor="end" font-family="Liberation Serif, serif">-135</text>
<text x="117.40" y="1378.25" font-size="37.5" text-anchor="end" font-family="Liberation Serif, serif">-90</text>
<text x="117.40" y="1301.58" font-size="37.5" text-anchor="end" font-family="Liberation Serif, serif">-45</text>
<text x="117.40" y="1224.90" font-size="37.5" text-anchor="end" font-family="Liberation Serif, serif">0</text>
<text x="117.40" y="1148.22" font-size="37.5" text-anchor="end" font-family="Liberation Serif, serif">45</text>
<text x="117.40" y="1071.55" font-size="37.5" text-anchor="end" font-family="Liberation Serif, serif">90</text>
<text x="117.40" y="994.87" font-size="37.5" text-anchor="end" font-family="Liberation Serif, serif">135</text>
<text x="117.40" y="918.20" font-size="37.5" text-anchor="end" font-family="Liberation Serif, serif">180</text>
<text x="531.00" y="1616.30" font-size="44.6" text-anchor="middle" font-family="Liberation Serif, serif">Frequency (GHz)</text>
<text x="511.00" y="1676.70" font-size="42" text-anchor="middle" font-family="Liberation Serif, serif">(b)</text>
<text x="0" y="0" font-size="44.6" text-anchor="middle" font-family="Liberation Serif, serif" transform="translate(31.80,1210.90) rotate(-90)">Azimuth Angle (degree)</text>
<text x="486.20" y="1016.30" font-size="32.8" font-family="Liberation Serif, serif">14.988&#8211;15.634</text>
</svg>
</body></html>
